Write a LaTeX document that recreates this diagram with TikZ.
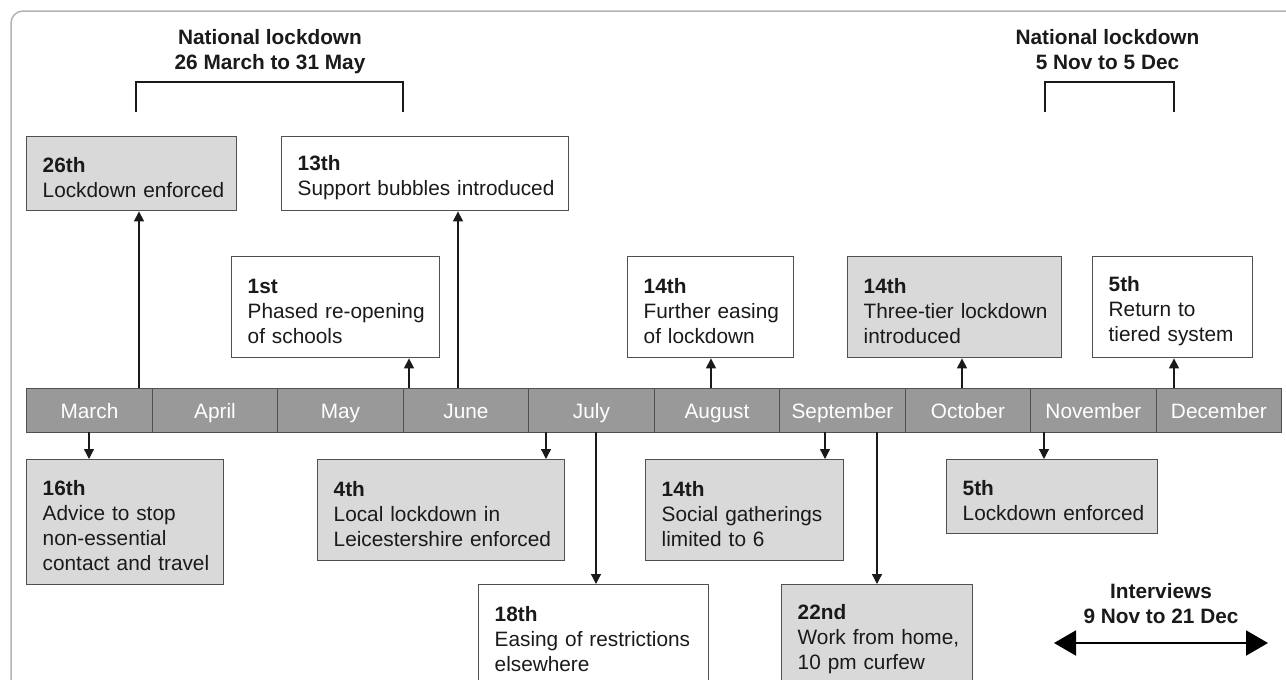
\documentclass[tikz,border=0pt]{standalone}
\usepackage{fontspec}
\setmainfont{Liberation Sans}
\usetikzlibrary{arrows.meta}
\definecolor{boxgray}{HTML}{D9D9D9}
\definecolor{bargray}{HTML}{999999}
\definecolor{edgegray}{HTML}{505050}
\definecolor{framegray}{HTML}{B4B4B4}
\definecolor{inkc}{HTML}{1A1A1A}
\newcommand\evt[7]{%
  \pgfmathsetmacro\evtw{#4-32}%
  \node[evbox, fill=#6, minimum width=#4pt, minimum height=#5pt, text width=\evtw pt, anchor=north west] (#1) at (#2,#3) {#7};}
\newcommand\dl[1]{\rule{0pt}{22pt}\textbf{#1}}
\begin{document}
\begin{tikzpicture}[x=1pt,y=-1pt,
  basefont/.style={font=\fontsize{20.8}{25}\selectfont},
  evbox/.style={basefont, draw=edgegray, line width=1.4pt, inner xsep=16pt, inner ysep=0pt, align=left, text=inkc},
  monthcell/.style={basefont, draw=edgegray, fill=bargray, line width=1.4pt, minimum width=125.5pt, minimum height=44pt, inner sep=0pt, text height=16pt, text depth=0pt, text=white, anchor=north west},
  titletext/.style={font=\bfseries\fontsize{20.8}{25}\selectfont, align=center, inner sep=0pt, text=inkc, anchor=north},
  arr/.style={draw=inkc, line width=1.3pt, -{Triangle[width=10pt,length=10pt]}},
  bracketline/.style={draw=inkc, line width=1.8pt},
  bigarr/.style={draw=black, line width=2pt, {Triangle[width=25pt,length=22pt]}-{Triangle[width=25pt,length=22pt]}}
]
\useasboundingbox (0,0) rectangle (1286,680);
\clip (0,0) rectangle (1286,680);
\fill[white] (0,0) rectangle (1286,680);
\draw[framegray, line width=1.5pt, rounded corners=12pt] (11,11) rectangle (1320,720);

% timeline
\foreach \m [count=\i] in {March,April,May,June,July,August,September,October,November,December}{
  \node[monthcell] (m\i) at ({26+125.5*(\i-1)},388) {\m};
}

% titles and brackets
\node[titletext] (t1) at (270,29) {National lockdown\\26 March to 31 May};
\node[titletext] (t2) at (1107.5,29) {National lockdown\\5 Nov to 5 Dec};
\coordinate (k1a) at (136,112); \coordinate (k1b) at (403,112);
\coordinate (k2a) at (1045,112); \coordinate (k2b) at (1174,112);
\draw[bracketline] (k1a) -- ++(0,-30) -| (k1b);
\draw[bracketline] (k2a) -- ++(0,-30) -| (k2b);

% upper boxes
\evt{b26}{26}{136}{210}{74}{boxgray}{\dl{26th}\\\mbox{Lockdown enforced}}
\evt{b13}{281}{136}{287}{74}{white}{\dl{13th}\\\mbox{Support bubbles introduced}}
\evt{b1}{231}{256}{208}{101}{white}{\dl{1st}\\\mbox{Phased re-opening}\\\mbox{of schools}}
\evt{b14a}{627}{256}{166}{101}{white}{\dl{14th}\\\mbox{Further easing}\\\mbox{of lockdown}}
\evt{b14b}{847}{256}{214}{101}{boxgray}{\dl{14th}\\\mbox{Three-tier lockdown}\\\mbox{introduced}}
\evt{b5a}{1092}{256}{160}{101}{white}{\dl{5th}\\\mbox{Return to}\\\mbox{tiered system}}

% lower boxes
\evt{b16}{26}{459}{197}{125}{boxgray}{\dl{16th}\\\mbox{Advice to stop}\\\mbox{non-essential}\\\mbox{contact and travel}}
\evt{b4}{317}{459}{247}{101}{boxgray}{\dl{4th}\\\mbox{Local lockdown in}\\\mbox{Leicestershire enforced}}
\evt{b18}{478}{584}{230}{101}{white}{\dl{18th}\\\mbox{Easing of restrictions}\\\mbox{elsewhere}}
\evt{b14c}{645}{459}{198}{101}{boxgray}{\dl{14th}\\\mbox{Social gatherings}\\\mbox{limited to 6}}
\evt{b22}{781}{584}{191}{101}{boxgray}{\dl{22nd}\\\mbox{Work from home,}\\\mbox{10 pm curfew}}
\evt{b5b}{946}{459}{211}{74}{boxgray}{\dl{5th}\\\mbox{Lockdown enforced}}

% arrow start points on the timeline
\coordinate (u26) at (139,388);
\coordinate (u13) at (458,388);
\coordinate (u1) at (409,388);
\coordinate (u14a) at (711,388);
\coordinate (u14b) at (962,388);
\coordinate (u5a) at (1174,388);
\coordinate (d16) at (89,432);
\coordinate (d4) at (546,432);
\coordinate (d18) at (596,432);
\coordinate (d14c) at (825,432);
\coordinate (d22) at (877,432);
\coordinate (d5b) at (1044,432);

\draw[arr] (u26) -- (u26 |- b26.south);
\draw[arr] (u13) -- (u13 |- b13.south);
\draw[arr] (u1) -- (u1 |- b1.south);
\draw[arr] (u14a) -- (u14a |- b14a.south);
\draw[arr] (u14b) -- (u14b |- b14b.south);
\draw[arr] (u5a) -- (u5a |- b5a.south);
\draw[arr] (d16) -- (d16 |- b16.north);
\draw[arr] (d4) -- (d4 |- b4.north);
\draw[arr] (d18) -- (d18 |- b18.north);
\draw[arr] (d14c) -- (d14c |- b14c.north);
\draw[arr] (d22) -- (d22 |- b22.north);
\draw[arr] (d5b) -- (d5b |- b5b.north);

% interviews
\node[titletext] (iv) at (1161,583) {Interviews\\9 Nov to 21 Dec};
\coordinate (ia) at (1054,643);
\coordinate (ib) at (1268,643);
\draw[bigarr] (ia) -- (ib);
\end{tikzpicture}
\end{document}
